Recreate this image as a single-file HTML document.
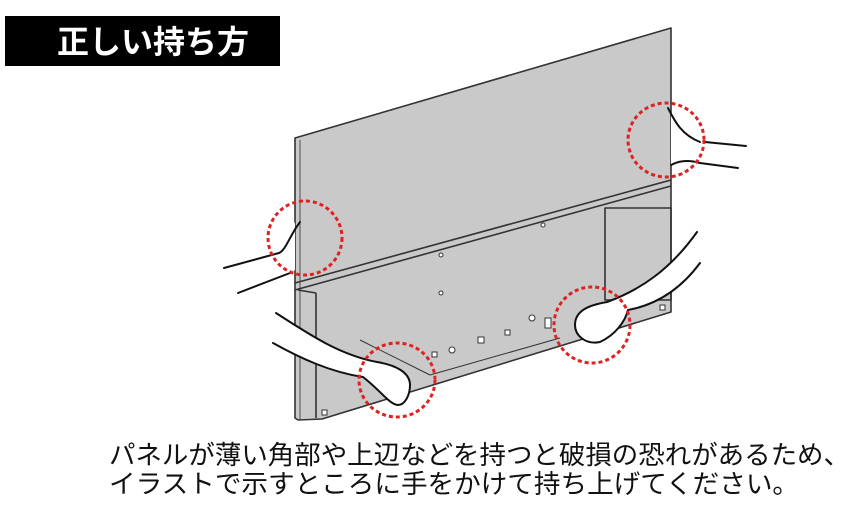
<!DOCTYPE html>
<html><head><meta charset="utf-8"><style>
html,body{margin:0;padding:0;background:#fff;width:852px;height:508px;overflow:hidden}
</style></head><body>
<svg width="852" height="508" viewBox="0 0 852 508" xmlns="http://www.w3.org/2000/svg">
<rect x="5" y="16" width="275" height="50" fill="#000"/>
<text x="57" y="53" font-family="'Liberation Sans','Noto Sans CJK JP',sans-serif" font-weight="bold" font-size="32" fill="#fff">正しい持ち方</text>
<g stroke="#333" stroke-width="1.6" fill="#c9c9c9" stroke-linejoin="round">
<polygon points="295,138 671,28 671,312 322,419 298,420 295,418"/>
<polyline points="295,283 671,180" fill="none"/>
<polyline points="295,290 671,186" fill="none"/>
<polyline points="316,293 316,418" fill="none"/>
<polyline points="298,290 316,293" fill="none"/>
<polyline points="300,140 300,420" fill="none" stroke-width="0.8"/>
<rect x="605" y="208" width="66" height="92" fill="none"/>
<polyline points="360,340 430,375 560,338" fill="none" stroke-width="1"/>
</g>
<g fill="#fff" stroke="#333" stroke-width="1">
<circle cx="441" cy="255" r="2"/><circle cx="441" cy="293" r="2"/><circle cx="543" cy="225" r="2"/>
<rect x="478" y="337" width="6" height="6"/><rect x="505" y="330" width="5" height="5"/><circle cx="452" cy="350" r="3"/><circle cx="532" cy="318" r="3"/><rect x="432" y="352" width="5" height="5"/><rect x="545" y="318" width="6" height="10"/><rect x="322" y="410" width="5" height="5"/><rect x="660" y="305" width="5" height="5"/>
</g>
<g stroke="#111" stroke-width="2" fill="#fff" stroke-linecap="round" stroke-linejoin="round">
<path d="M671,112 C675,125 680,135 700,142 L746,146 L738,168 L700,163 C690,160 680,162 671,165 Z" stroke="none"/>
<path d="M705,142 L746,146" fill="none"/><path d="M700,163 L738,168" fill="none"/>
<path d="M668,108 C675,122 682,135 700,142" fill="none"/><path d="M671,165 C680,160 690,160 700,163" fill="none"/>
<path d="M295,222 C288,235 286,248 279,253 L224,268 L238,293 L290,273 L295,270 Z" stroke="none"/>
<path d="M224,268 L279,253" fill="none"/><path d="M238,293 L290,273" fill="none"/>
<path d="M300,222 C290,235 286,250 279,253" fill="none"/>
<path d="M276,313 C310,335 340,355 377,362 C395,365 410,372 410,385 C410,395 405,405 398,405 C390,405 380,390 363,377 C330,372 300,358 273,343"/>
<path d="M697,232 C670,270 640,290 607,302 C590,305 575,310 575,325 C575,335 585,345 600,342 C615,335 625,322 628,310 C655,305 680,290 700,263"/>
</g>
<g fill="none" stroke="#d22" stroke-width="3" stroke-dasharray="4 3">
<ellipse cx="666" cy="140" rx="38" ry="37"/>
<ellipse cx="305" cy="238" rx="37" ry="37"/>
<ellipse cx="397" cy="380" rx="38" ry="37"/>
<ellipse cx="592" cy="325" rx="38" ry="38"/>
</g>
<g font-family="'Liberation Sans','Noto Sans CJK JP',sans-serif" font-size="26" fill="#111">
<text x="109" y="464" textLength="741" lengthAdjust="spacingAndGlyphs">パネルが薄い角部や上辺などを持つと破損の恐れがあるため、</text>
<text x="109" y="493" textLength="690" lengthAdjust="spacingAndGlyphs">イラストで示すところに手をかけて持ち上げてください。</text>
</g>
</svg>
</body></html>
